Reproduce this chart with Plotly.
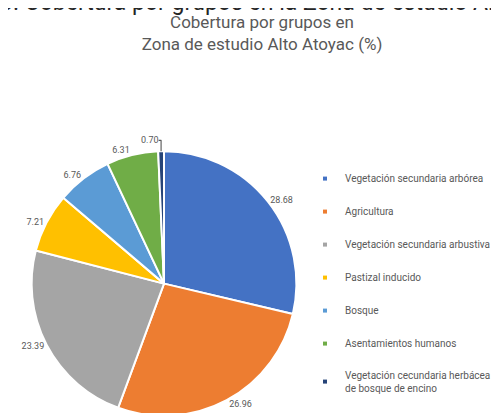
import plotly.graph_objects as go

categories = [
    "Vegetación secundaria arbórea",
    "Agricultura",
    "Vegetación secundaria arbustiva",
    "Pastizal inducido",
    "Bosque",
    "Asentamientos humanos",
    "Vegetación cecundaria herbácea<br>de bosque de encino",
]
values = [28.68, 26.96, 23.39, 7.21, 6.76, 6.31, 0.70]
colors = ["#4472C4", "#ED7D31", "#A5A5A5", "#FFC000", "#5B9BD5", "#70AD47", "#264478"]

W, H = 499, 413
FONT = "Roboto"
GREY = "#595959"

fig = go.Figure()
fig.add_trace(go.Pie(
    labels=categories,
    values=values,
    sort=False,
    direction="clockwise",
    rotation=0,
    marker=dict(colors=colors, line=dict(color="white", width=2)),
    texttemplate="%{value:.2f}",
    textposition="outside",
    textfont=dict(size=9, color=GREY, family=FONT),
    showlegend=False,
    hoverinfo="label+value",
    domain=dict(x=[22 / W, 290 / W], y=[0 / H, 268 / H]),
))

for i, (cat, col) in enumerate(zip(categories, colors)):
    fig.add_trace(go.Scatter(
        x=[None], y=[None], mode="markers", name=cat,
        marker=dict(symbol="square", size=4, color=col),
        legendgroup=f"g{i}", showlegend=True, hoverinfo="skip",
    ))

fig.update_layout(
    width=W, height=H,
    margin=dict(l=0, r=0, t=0, b=0),
    paper_bgcolor="white", plot_bgcolor="white",
    font=dict(family=FONT, color=GREY),
    xaxis=dict(visible=False), yaxis=dict(visible=False),
    title=dict(
        text="Cobertura por grupos en<br>Zona de estudio Alto Atoyac (%)",
        x=254 / W, xanchor="center", xref="paper",
        y=1 - 20 / H, yanchor="middle", yref="container",
        font=dict(size=17, color=GREY, family=FONT),
    ),
    legend=dict(
        x=297 / W, xanchor="left", y=1 - 158 / H, yanchor="top",
        font=dict(size=10, color=GREY, family=FONT),
        tracegroupgap=14, itemwidth=30, traceorder="grouped",
        bgcolor="rgba(0,0,0,0)",
    ),
    annotations=[dict(
        text="3. Cobertura por grupos en la Zona de estudio Alto Atoyac",
        xref="paper", yref="paper", x=-10 / W, xanchor="left",
        y=1 + 6 / H, yanchor="middle", showarrow=False,
        font=dict(size=23, color="#262626", family=FONT),
    )],
)

fig.write_html("out.html")
